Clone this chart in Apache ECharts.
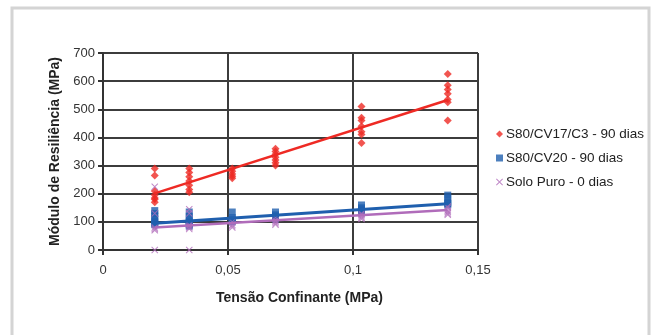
<!DOCTYPE html>
<html>
<head>
<meta charset="utf-8">
<script src="https://cdn.jsdelivr.net/npm/echarts@6/dist/echarts.min.js"></script>
<style>
  html, body { margin: 0; padding: 0; background: #fff; }
  #chart { width: 651px; height: 335px; }
</style>
</head>
<body>
<div id="chart"></div>
<script>
// Confining stress levels (MPa) used in the resilient modulus tests
const stressLevels = [0.0207, 0.0345, 0.0517, 0.069, 0.1034, 0.1379];

// Resilient modulus readings (MPa) at each stress level
const mrS80CV17C3 = [
  [290, 265, 210, 195, 185, 180, 170],
  [290, 275, 260, 245, 230, 215, 205],
  [290, 280, 270, 262, 255],
  [360, 350, 340, 330, 320, 310, 300],
  [510, 470, 460, 440, 420, 410, 380],
  [625, 585, 570, 555, 535, 525, 460]
];
const mrS80CV20 = [
  [140, 130, 120, 110, 100, 95, 90],
  [135, 120, 110, 100, 95, 90, 85],
  [135, 115, 110, 105, 100],
  [135, 125, 120, 115, 110],
  [160, 150, 145, 140, 135],
  [195, 185, 170, 165, 160]
];
const mrSoloPuro = [
  [225, 130, 80, 75, 70, 0],
  [145, 130, 90, 85, 80, 75, 0],
  [100, 90, 85, 80],
  [115, 105, 100, 95, 90],
  [130, 125, 120, 115, 110],
  [155, 150, 140, 135, 130, 125]
];

// Linear trend lines: value at first and last stress level
const trendX = [0.0207, 0.1379];
const trendS80CV17C3 = [201, 533];
const trendS80CV20 = [95, 164];
const trendSoloPuro = [80, 142];

const seriesNames = ['S80/CV17/C3 - 90 dias', 'S80/CV20 - 90 dias', 'Solo Puro - 0 dias'];
const xTicks = ['0', '0,05', '0,1', '0,15'];

const colRed = '#ee2a24';
const colBlue = '#1f5fae';
const colPurple = '#b06cba';
const crossPath = 'path://M0,1L1,0L5,4L9,0L10,1L6,5L10,9L9,10L5,6L1,10L0,9L4,5Z';

function toPoints(groups) {
  const pts = [];
  groups.forEach((vals, i) => vals.forEach(v => pts.push([stressLevels[i], v])));
  return pts;
}
function toLine(vals) {
  return trendX.map((x, i) => [x, vals[i]]);
}

const chart = echarts.init(document.getElementById('chart'), null, { renderer: 'canvas' });
const font = 'Liberation Sans, Arial, sans-serif';

chart.setOption({
  animation: false,
  backgroundColor: '#fff',
  graphic: [{
    type: 'rect',
    shape: { x: 12, y: 8, width: 637, height: 345 },
    style: { fill: 'none', stroke: '#d4d4d4', lineWidth: 3 },
    silent: true
  }],
  grid: { left: 103, right: 173, top: 53, bottom: 85 },
  legend: {
    data: seriesNames,
    orient: 'vertical',
    left: 491,
    top: 122,
    itemGap: 10,
    itemWidth: 7,
    itemHeight: 7,
    textStyle: { fontFamily: font, fontSize: 13.5, color: '#222', padding: [0, 0, 0, -2] }
  },
  xAxis: {
    type: 'value',
    min: 0, max: 0.15, interval: 0.05,
    name: 'Tensão Confinante (MPa)',
    nameLocation: 'middle',
    nameGap: 41,
    nameTextStyle: { fontFamily: font, fontSize: 14, fontWeight: 'bold', color: '#222', padding: [0, 0, 0, 18] },
    axisLine: { lineStyle: { color: '#333', width: 2 } },
    axisTick: { show: true, length: 5, lineStyle: { color: '#333', width: 2 } },
    axisLabel: {
      fontFamily: font, fontSize: 13, color: '#333', margin: 14,
      formatter: (v) => xTicks[Math.round(v / 0.05)]
    },
    splitLine: { show: true, lineStyle: { color: '#3c3c3c', width: 2 } }
  },
  yAxis: {
    type: 'value',
    min: 0, max: 700, interval: 100,
    name: 'Módulo de Resiliência (MPa)',
    nameLocation: 'middle',
    nameGap: 41,
    nameRotate: 90,
    nameTextStyle: { fontFamily: font, fontSize: 14, fontWeight: 'bold', color: '#222' },
    axisLine: { show: true, lineStyle: { color: '#333', width: 2 } },
    axisTick: { show: true, length: 5, lineStyle: { color: '#333', width: 2 } },
    axisLabel: { fontFamily: font, fontSize: 13, color: '#333', margin: 8 },
    splitLine: { show: true, lineStyle: { color: '#3c3c3c', width: 2 } }
  },
  series: [
    {
      name: seriesNames[0], type: 'scatter', symbol: 'diamond', symbolSize: 8,
      itemStyle: { color: colRed }, data: toPoints(mrS80CV17C3), z: 3
    },
    {
      name: seriesNames[1], type: 'scatter', symbol: 'rect', symbolSize: 7,
      itemStyle: { color: colBlue }, data: toPoints(mrS80CV20), z: 3
    },
    {
      name: seriesNames[2], type: 'scatter', symbol: crossPath, symbolSize: 7,
      itemStyle: { color: colPurple }, data: toPoints(mrSoloPuro), z: 3
    },
    {
      name: 'trend1', type: 'line', data: toLine(trendS80CV17C3), showSymbol: false,
      lineStyle: { color: colRed, width: 2.5 }, z: 4, silent: true
    },
    {
      name: 'trend2', type: 'line', data: toLine(trendS80CV20), showSymbol: false,
      lineStyle: { color: colBlue, width: 3 }, z: 4, silent: true
    },
    {
      name: 'trend3', type: 'line', data: toLine(trendSoloPuro), showSymbol: false,
      lineStyle: { color: colPurple, width: 2.5 }, z: 4, silent: true
    }
  ]
});
</script>
</body>
</html>
